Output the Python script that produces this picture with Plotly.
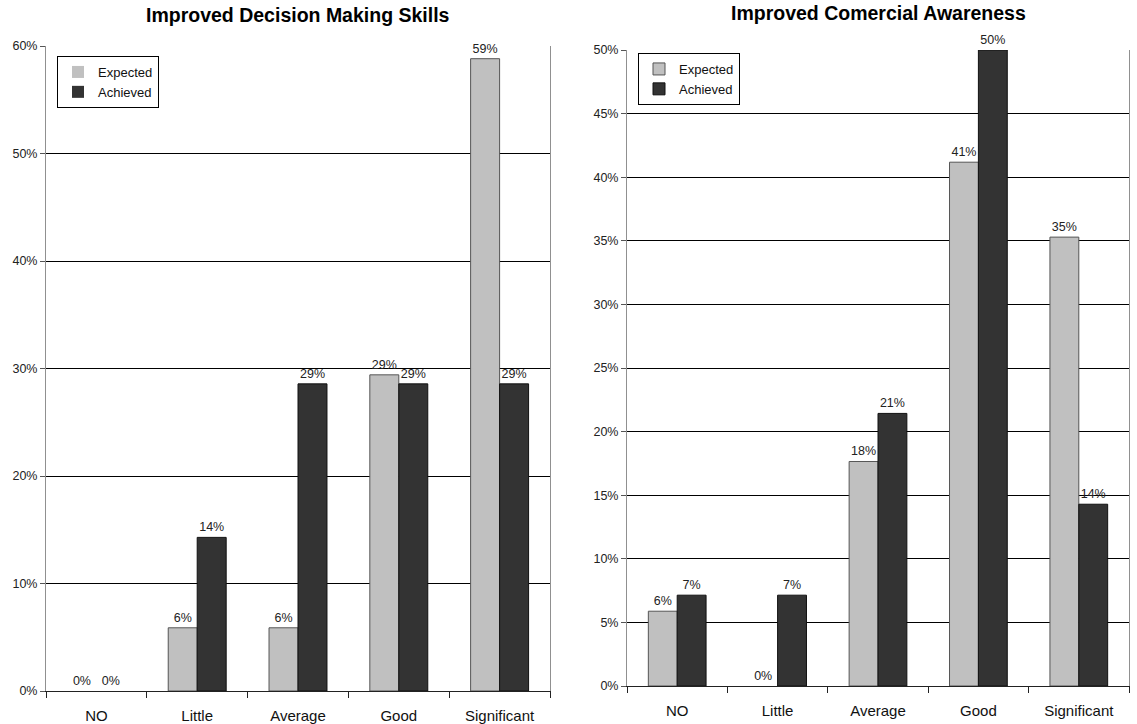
import plotly.graph_objects as go

categories = ["NO", "Little", "Average", "Good", "Significant"]

# Improved Decision Making Skills
dm_expected = [0.0, 0.0588, 0.0588, 0.2941, 0.5882]
dm_achieved = [0.0, 0.1429, 0.2857, 0.2857, 0.2857]

# Improved Comercial Awareness
ca_expected = [0.0588, 0.0, 0.1765, 0.4118, 0.3529]
ca_achieved = [0.0714, 0.0714, 0.2143, 0.5000, 0.1429]

titles = ["Improved Decision Making Skills", "Improved Comercial Awareness"]

FONT = "Liberation Sans, Arial, sans-serif"
EXP_COLOR = "#c0c0c0"
ACH_COLOR = "#333333"
W, H = 1137, 724


def labels(vals):
    return [f"{round(v * 100):.0f}%" for v in vals]


def outline(vals):
    return [1 if v > 0 else 0 for v in vals]


fig = go.Figure()

sets = [
    (dm_expected, dm_achieved, "x", "y", "legend"),
    (ca_expected, ca_achieved, "x2", "y2", "legend2"),
]
for exp, ach, xa, ya, lg in sets:
    fig.add_trace(go.Bar(
        x=categories, y=exp, name="Expected", xaxis=xa, yaxis=ya, legend=lg,
        marker=dict(color=EXP_COLOR, line=dict(color="#555555", width=outline(exp))),
        text=labels(exp), textposition="outside", cliponaxis=False,
        textfont=dict(family=FONT, size=12.5, color="#222222"),
    ))
    fig.add_trace(go.Bar(
        x=categories, y=ach, name="Achieved", xaxis=xa, yaxis=ya, legend=lg,
        marker=dict(color=ACH_COLOR, line=dict(color="#111111", width=outline(ach))),
        text=labels(ach), textposition="outside", cliponaxis=False,
        textfont=dict(family=FONT, size=12.5, color="#222222"),
    ))

xdoms = [[46 / W, 550 / W], [627 / W, 1129 / W]]
ydoms = [[(H - 691) / H, (H - 46) / H], [(H - 686) / H, (H - 50) / H]]
ymax = [0.6, 0.5]
dticks = [0.1, 0.05]

layout = dict(
    width=W, height=H, autosize=False,
    margin=dict(l=0, r=0, t=0, b=0, pad=0),
    paper_bgcolor="white", plot_bgcolor="white",
    font=dict(family=FONT, size=12, color="#222222"),
    barmode="group", bargap=0.425, bargroupgap=0.0,
    showlegend=True,
)

annotations = []
for i in range(2):
    sx = "" if i == 0 else "2"
    layout["xaxis" + sx] = dict(
        domain=xdoms[i], anchor="y" + sx, automargin=False,
        showline=True, linecolor="#222222", linewidth=1,
        ticks="outside", tickson="boundaries", ticklen=6, tickcolor="#222222",
        tickfont=dict(family=FONT, size=15, color="#111111"),
        ticklabelstandoff=11,
        showgrid=False,
    )
    layout["yaxis" + sx] = dict(
        domain=ydoms[i], anchor="x" + sx, automargin=False,
        range=[0, ymax[i]], dtick=dticks[i], tickformat=".0%",
        showline=True, linecolor="#909090", linewidth=1, mirror=True,
        ticks="outside", ticklen=5, tickcolor="#555555",
        tickfont=dict(family=FONT, size=12.5, color="#222222"),
        showgrid=True, gridcolor="#000000", gridwidth=1,
        zeroline=False,
    )
    annotations.append(dict(
        text=f"<b>{titles[i]}</b>", xref="paper", yref="paper",
        x=(xdoms[i][0] + xdoms[i][1]) / 2, y=1 - (15 if i == 0 else 13) / H,
        xanchor="center", yanchor="middle", showarrow=False,
        font=dict(family=FONT, size=19.5, color="#000000"),
    ))

legend_common = dict(
    bgcolor="white", bordercolor="#000000", borderwidth=1,
    font=dict(family=FONT, size=13, color="#111111"),
    xanchor="left", yanchor="top", itemwidth=30, tracegroupgap=0,
)
layout["legend"] = dict(x=57 / W, y=1 - 56 / H, **legend_common)
layout["legend2"] = dict(x=638 / W, y=1 - 53 / H, **legend_common)
layout["annotations"] = annotations

fig.update_layout(**layout)
fig.write_html(
    "out.html",
    config={"displayModeBar": False},
    post_script="document.body.style.margin='0';document.body.style.overflow='hidden';",
)
